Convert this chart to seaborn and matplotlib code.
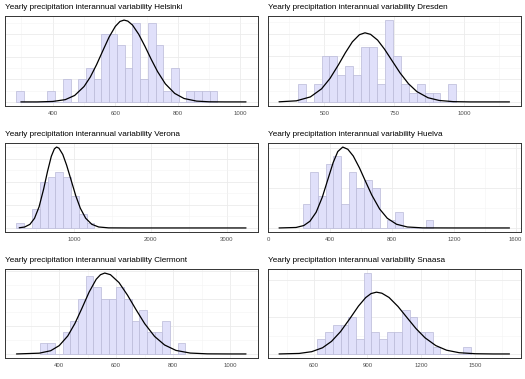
import numpy as np
import pandas as pd
import matplotlib
matplotlib.use("Agg")
import matplotlib.pyplot as plt
import seaborn as sns
from matplotlib.ticker import MultipleLocator, MaxNLocator, AutoMinorLocator

sns.set_theme(style="white")
plt.rcParams['font.family'] = ['Liberation Sans', 'DejaVu Sans']

# ---- histogram data: first bin edge, bin width, counts per bin ----
helsinki_bin_start = 284
helsinki_bin_width = 24.7
helsinki_counts = [1, 0, 0, 0, 1, 0, 2, 0, 2, 3, 2, 6, 6, 5, 3, 7, 2, 7, 5, 1, 3, 0, 1, 1, 1, 1]

dresden_bin_start = 405
dresden_bin_width = 28.3
dresden_counts = [2, 0, 2, 5, 5, 3, 4, 3, 6, 6, 2, 9, 5, 2, 1, 2, 1, 1, 0, 2]

verona_bin_start = 244
verona_bin_width = 102
verona_counts = [1, 0, 4, 10, 11, 12, 11, 7, 3, 1]

huelva_bin_start = 223
huelva_bin_width = 49.7
huelva_counts = [3, 7, 4, 8, 9, 3, 7, 5, 6, 5, 0, 1, 2, 0, 0, 0, 1]

clermont_bin_start = 332
clermont_bin_width = 26.9
clermont_counts = [1, 1, 0, 2, 3, 5, 7, 6, 5, 5, 6, 5, 3, 4, 2, 2, 3, 0, 1]

snaasa_bin_start = 622
snaasa_bin_width = 42.7
snaasa_counts = [2, 3, 4, 4, 5, 2, 11, 3, 2, 3, 3, 6, 5, 3, 3, 1, 0, 0, 0, 1]

# ---- fitted density curves (scaled to counts) ----
helsinki_curve_x = [298, 350, 400, 440, 470, 500, 520, 540, 560, 580, 600, 615, 628,
                    640, 655, 675, 695, 715, 735, 760, 790, 820, 860, 900, 950, 1018]
helsinki_curve_y = [0.0, 0.0, 0.04, 0.20, 0.57, 1.36, 2.20, 3.29, 4.52, 5.73, 6.68, 7.12, 7.24,
                    7.15, 6.80, 5.98, 4.91, 3.76, 2.69, 1.60, 0.75, 0.30, 0.07, 0.01, 0.0, 0.0]

dresden_curve_x = [338, 400, 450, 490, 520, 550, 575, 600, 625, 645,
                   665, 690, 715, 740, 770, 800, 830, 870, 910, 960, 1020, 1161]
dresden_curve_y = [0.01, 0.12, 0.55, 1.44, 2.58, 4.07, 5.41, 6.61, 7.39, 7.60,
                   7.43, 6.80, 5.79, 4.61, 3.20, 2.01, 1.14, 0.46, 0.16, 0.03, 0.0, 0.0]

verona_curve_x = [280, 350, 420, 480, 540, 600, 650, 700, 740, 769,
                  800, 850, 900, 960, 1020, 1080, 1150, 1230, 1320, 1450, 1700, 2500, 3249]
verona_curve_y = [0.04, 0.20, 0.78, 2.08, 4.58, 8.44, 12.2, 15.5, 17.1, 17.5,
                  17.25, 15.9, 13.6, 10.3, 6.97, 4.26, 2.10, 0.79, 0.21, 0.02, 0.0, 0.0, 0.0]

huelva_curve_x = [70, 180, 230, 270, 310, 350, 390, 420, 450, 482,
                  515, 550, 590, 630, 670, 720, 770, 830, 900, 1000, 1200, 1560]
huelva_curve_y = [0.0, 0.06, 0.30, 0.84, 1.96, 3.85, 6.32, 8.16, 9.54, 10.1,
                  9.82, 8.98, 7.50, 5.78, 4.10, 2.38, 1.21, 0.46, 0.12, 0.01, 0.0, 0.0]

clermont_curve_x = [250, 330, 370, 400, 430, 455, 480, 505, 530, 545, 560,
                    580, 610, 640, 670, 700, 735, 770, 810, 860, 920, 1000, 1056]
clermont_curve_y = [0.0, 0.07, 0.29, 0.75, 1.62, 2.74, 4.13, 5.58, 6.74, 7.15, 7.30,
                    7.15, 6.44, 5.30, 3.99, 2.74, 1.58, 0.81, 0.32, 0.08, 0.01, 0.0, 0.0]

snaasa_curve_x = [408, 520, 590, 650, 700, 750, 800, 850, 890, 920, 950,
                  980, 1020, 1070, 1120, 1170, 1220, 1280, 1340, 1410, 1500, 1600, 1690]
snaasa_curve_y = [0.0, 0.07, 0.31, 0.84, 1.71, 3.03, 4.73, 6.51, 7.66, 8.21, 8.40,
                  8.26, 7.68, 6.45, 4.94, 3.45, 2.20, 1.14, 0.51, 0.17, 0.03, 0.0, 0.0]

stations = ["Helsinki", "Dresden", "Verona", "Huelva", "Clermont", "Snaasa"]
x_tick_steps = [200, 250, 1000, 400, 200, 300]

panels = [
    (helsinki_bin_start, helsinki_bin_width, helsinki_counts, helsinki_curve_x, helsinki_curve_y),
    (dresden_bin_start, dresden_bin_width, dresden_counts, dresden_curve_x, dresden_curve_y),
    (verona_bin_start, verona_bin_width, verona_counts, verona_curve_x, verona_curve_y),
    (huelva_bin_start, huelva_bin_width, huelva_counts, huelva_curve_x, huelva_curve_y),
    (clermont_bin_start, clermont_bin_width, clermont_counts, clermont_curve_x, clermont_curve_y),
    (snaasa_bin_start, snaasa_bin_width, snaasa_counts, snaasa_curve_x, snaasa_curve_y),
]

W, H = 525, 379
col_px = [(5, 257.5), (267.5, 521)]
row_px = [(16, 106), (143, 232), (269, 358)]

fig = plt.figure(figsize=(W / 100, H / 100), dpi=100)

for i, (name, step, (b0, bw, counts, cx, cy)) in enumerate(zip(stations, x_tick_steps, panels)):
    r, c = divmod(i, 2)
    x0, x1 = col_px[c]
    y0, y1 = row_px[r]
    ax = fig.add_axes([x0 / W, 1 - y1 / H, (x1 - x0) / W, (y1 - y0) / H])

    n = len(counts)
    left_edges = [b0 + bw * k for k in range(n)]
    hist_df = pd.DataFrame({"value": [e + bw / 2 for e in left_edges], "n": counts})
    curve_df = pd.DataFrame({"x": cx, "y": cy})

    sns.histplot(data=hist_df, x="value", weights="n", binwidth=bw,
                 binrange=(b0, b0 + bw * n), ax=ax,
                 color="#E0E0FA", edgecolor="#B9B9D8", linewidth=0.5, alpha=1, zorder=2)
    sns.lineplot(data=curve_df, x="x", y="y", ax=ax, color="black", linewidth=0.9, zorder=3)

    # ggplot-like limits (5% expansion)
    lo = min(b0, cx[0])
    hi = max(b0 + bw * n, cx[-1])
    pad = 0.05 * (hi - lo)
    ax.set_xlim(lo - pad, hi + pad)
    ymax = max(max(counts), max(cy))
    ax.set_ylim(-0.05 * ymax, 1.05 * ymax)

    ax.xaxis.set_major_locator(MultipleLocator(step))
    ax.xaxis.set_minor_locator(AutoMinorLocator(2))
    ax.yaxis.set_major_locator(MaxNLocator(nbins=4, steps=[1, 2, 2.5, 5, 10]))
    ax.yaxis.set_minor_locator(AutoMinorLocator(2))
    ax.grid(which="major", color="#EBEBEB", linewidth=0.6, zorder=0)
    ax.grid(which="minor", color="#F3F3F3", linewidth=0.4, zorder=0)
    ax.set_axisbelow(True)

    ax.set_xlabel("")
    ax.set_ylabel("")
    ax.set_yticklabels([])
    ax.tick_params(axis="y", which="both", length=0)
    ax.tick_params(axis="x", which="major", length=2, width=0.5, color="#333333",
                   labelsize=4.3, labelcolor="#4D4D4D", pad=1.5)
    ax.tick_params(axis="x", which="minor", length=0)
    for s in ax.spines.values():
        s.set_color("#333333")
        s.set_linewidth(0.7)
    ax.set_facecolor("white")
    ax.set_title(f"Yearly precipitation interannual variability {name}",
                 loc="left", fontsize=5.85, pad=5, color="black")

fig.savefig("out.png", dpi=100)
